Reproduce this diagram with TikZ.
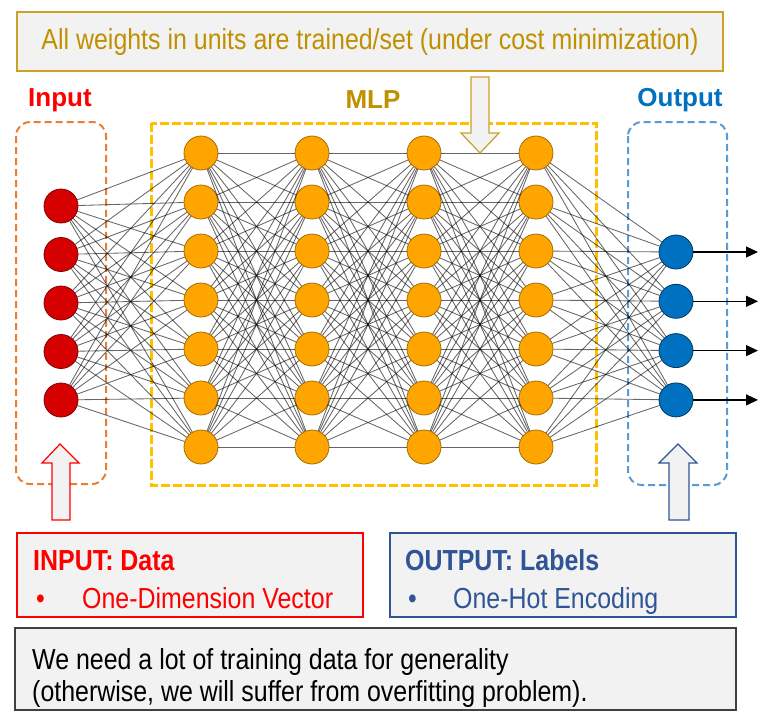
\documentclass[tikz,border=0pt]{standalone}
\usepackage{fontspec}
\setmainfont{Liberation Sans}
\newfontfamily\narrowfont{Liberation Sans}[FakeStretch=0.86]
\usetikzlibrary{arrows.meta}
\definecolor{gold}{RGB}{191,144,0}
\definecolor{goldline}{RGB}{201,162,39}
\definecolor{boxgray}{RGB}{242,242,242}
\definecolor{mlpyellow}{RGB}{255,192,0}
\definecolor{inorange}{RGB}{237,125,49}
\definecolor{outblue}{RGB}{91,155,213}
\definecolor{navy}{RGB}{47,85,151}
\definecolor{labelblue}{RGB}{0,112,192}
\definecolor{inred}{RGB}{214,0,0}
\definecolor{hidorange}{RGB}{255,165,0}
\tikzset{
  unit/.style={circle, minimum size=34pt, inner sep=0pt, line width=.8pt},
  innode/.style={unit, fill=inred, draw=inred!60!black},
  hidnode/.style={unit, fill=hidorange, draw=hidorange!65!black},
  outnode/.style={unit, fill=labelblue, draw=labelblue!50!black},
  wire/.style={black, opacity=.6, line width=.85pt},
  big/.style={font=\narrowfont\fontsize{29}{34}\selectfont},
  head/.style={font=\narrowfont\bfseries\fontsize{29}{34}\selectfont},
  tag/.style={font=\bfseries\fontsize{26}{30}\selectfont}
}
\begin{document}
\begin{tikzpicture}[x=1pt, y=-1pt]
 \fill[white](0,0)rectangle(768,724);
 \useasboundingbox(0,0)rectangle(768,724);
 % top note
 \node[draw=goldline, fill=boxgray, line width=1.2pt, minimum width=706pt, minimum height=59pt, inner sep=0pt, text=gold, big] (weights) at (370,41.5) {All weights in units are trained/set (under cost minimization)};
 \node[tag, text=red] (inlabel) at (60,100) {Input};
 \node[tag, text=gold] (mlplabel) at (373,100) {MLP};
 \node[tag, text=labelblue] (outlabel) at (680,100) {Output};
 % layer frames
 \draw[inorange, line width=2pt, dash pattern=on 7pt off 4pt, rounded corners=14pt](16,122)rectangle(106,484);
 \draw[mlpyellow, line width=3pt, dash pattern=on 9pt off 3pt](151,123)rectangle(596,485);
 \draw[outblue, line width=2pt, dash pattern=on 7pt off 4pt, rounded corners=14pt](628,122)rectangle(727,485);
 % units
 \foreach \i in {1,...,5}
 {
     \node[innode] (in\i) at (61,{206+(\i-1)*48.5}) {};
 }
 \foreach \l/\x in {1/201,2/312,3/424,4/536}
 {
     \foreach \i in {1,...,7}
         \node[hidnode] (h\l-\i) at (\x,{153+(\i-1)*49}) {};
 }
 \foreach \i in {1,...,4}
 {
     \node[outnode] (out\i) at (676,{252+(\i-1)*49.3}) {};
     \coordinate (tip\i) at ([xshift=82pt]out\i.center);
     \draw[-{Triangle[length=12pt,width=11pt]}, line width=1.2pt](out\i)--(tip\i);
 }
 % weights
 \foreach \i in {1,...,5}
     \foreach \j in {1,...,7}
         \draw[wire](in\i)--(h1-\j);
 \foreach \l [evaluate=\l as \m using int(\l+1)] in {1,2,3}
     \foreach \i in {1,...,7}
         \foreach \j in {1,...,7}
             \draw[wire](h\l-\i)--(h\m-\j);
 \foreach \i in {1,...,7}
     \foreach \j in {1,...,4}
         \draw[wire](h4-\i)--(out\j);
 % block arrows
 \draw[goldline, fill=boxgray, line width=1.2pt](471,77)--(489,77)--(489,133)--(499,133)--(480,153)--(461,133)--(471,133)--cycle;
 \draw[red, fill=boxgray, line width=1.2pt](52,520)--(70,520)--(70,463)--(79,463)--(60,444)--(42,463)--(52,463)--cycle;
 \draw[navy, fill=boxgray, line width=1.2pt](669,520)--(689,520)--(689,463)--(697,463)--(678,444)--(659,463)--(669,463)--cycle;
 % input / output notes
 \draw[red, fill=boxgray, line width=1.2pt](17,533)rectangle(363,617);
 \node[head, text=red, anchor=base west, inner sep=0pt] (indata) at (33,570) {INPUT: Data};
 \node[big, text=red, anchor=base west, inner sep=0pt] (inbullet) at (36,608) {•};
 \node[big, text=red, anchor=base west, inner sep=0pt] (invec) at (82,608) {One-Dimension Vector};
 \draw[navy, fill=boxgray, line width=1.2pt](390,533)rectangle(736,617);
 \node[head, text=navy, anchor=base west, inner sep=0pt] (outdata) at (405,570) {OUTPUT: Labels};
 \node[big, text=navy, anchor=base west, inner sep=0pt] (outbullet) at (408,608) {•};
 \node[big, text=navy, anchor=base west, inner sep=0pt] (outenc) at (453,608) {One-Hot Encoding};
 % remark
 \draw[black!75, fill=boxgray, line width=1.5pt](15,628)rectangle(736,710);
 \node[big, anchor=base west, inner sep=0pt] (remark1) at (32,669) {We need a lot of training data for generality};
 \node[big, anchor=base west, inner sep=0pt] (remark2) at (32,701) {(otherwise, we will suffer from overfitting problem).};
\end{tikzpicture}
\end{document}
